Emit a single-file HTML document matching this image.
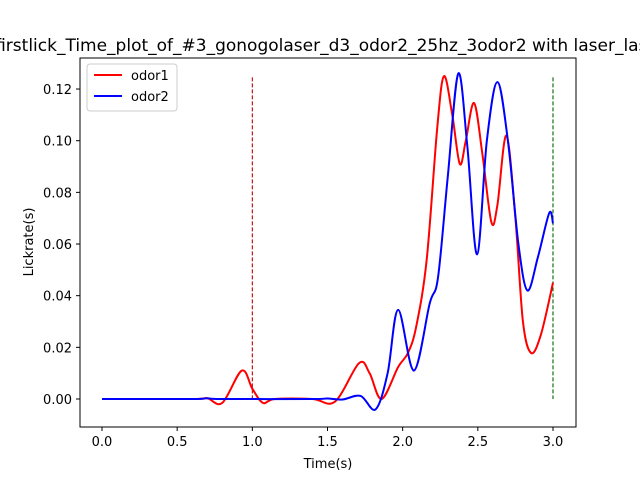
<!DOCTYPE html>
<html><head><meta charset="utf-8"><style>body{margin:0;background:#fff}svg{display:block;font-family:"DejaVu Sans","Liberation Sans",sans-serif}</style></head>
<body>
<svg id="c" width="640" height="480">
<text x="330" y="51" text-anchor="middle" font-size="17">firstlick_Time_plot_of_#3_gonogolaser_d3_odor2_25hz_3odor2 with laser_laser</text>
<g id="marks"></g>
<rect x="80" y="58" width="496" height="369" fill="none" stroke="#000" stroke-width="1"/>
<g id="axes" font-size="13"></g>
<text x="328" y="468" text-anchor="middle" font-size="13">Time(s)</text>
<text transform="translate(33,242) rotate(-90)" text-anchor="middle" font-size="13">Lickrate(s)</text>
<g>
<rect x="87" y="64" width="90" height="47" rx="3" fill="#fff" stroke="#ccc"/>
<line x1="94" y1="75" x2="122" y2="75" stroke="red" stroke-width="2"/>
<text x="131" y="80" font-size="13">odor1</text>
<line x1="94" y1="96" x2="122" y2="96" stroke="blue" stroke-width="2"/>
<text x="131" y="101" font-size="13">odor2</text>
</g>
</svg>
<script>
const xTicks=[0,0.5,1.0,1.5,2.0,2.5,3.0];
const yTicks=[0,0.02,0.04,0.06,0.08,0.10,0.12];
const odor1T=[0,0.6,0.7,0.8,0.93,1.0,1.07,1.15,1.4,1.55,1.71,1.78,1.86,1.97,2.035,2.09,2.16,2.23,2.275,2.33,2.38,2.42,2.475,2.53,2.59,2.63,2.69,2.75,2.8,2.855,2.92,3.0];
const odor1V=[0,0,0.0003,-0.0015,0.011,0.004,-0.0015,0,0,-0.001,0.0139,0.01,0,0.0124,0.0178,0.028,0.054,0.105,0.125,0.11,0.091,0.1,0.1146,0.095,0.0685,0.075,0.102,0.07,0.03,0.0178,0.025,0.045];
const odor2T=[0,0.6,0.7,0.8,1.4,1.5,1.6,1.72,1.82,1.9,1.97,2.075,2.18,2.235,2.3,2.37,2.43,2.495,2.56,2.63,2.7,2.77,2.83,2.9,2.975,3.0];
const odor2V=[0,0,0.0003,0,0,0.0002,-0.0002,0.0012,-0.004,0.01,0.0345,0.011,0.037,0.047,0.086,0.126,0.098,0.056,0.1,0.1227,0.1,0.06,0.042,0.055,0.072,0.068];
const markers=[{t:1.0,c:"#c00000"},{t:3.0,c:"#006400"}];
const X=t=>102+t*150.33, Y=v=>399-v*2583;
const NS="http://www.w3.org/2000/svg";
const marks=document.getElementById('marks'), axes=document.getElementById('axes');
function path(T,V){
  const p=T.map((t,i)=>[X(t),Y(V[i])]);
  let d="M"+p[0][0]+","+p[0][1];
  for(let i=0;i<p.length-1;i++){
    const p0=p[i-1]||p[i],p1=p[i],p2=p[i+1],p3=p[i+2]||p2;
    const c1=[p1[0]+(p2[0]-p0[0])/6,p1[1]+(p2[1]-p0[1])/6];
    const c2=[p2[0]-(p3[0]-p1[0])/6,p2[1]-(p3[1]-p1[1])/6];
    d+=`C${c1[0]},${c1[1]} ${c2[0]},${c2[1]} ${p2[0]},${p2[1]}`;
  }
  return d;
}
markers.forEach((m,i)=>{
  const l=document.createElementNS(NS,'line');
  l.setAttribute('x1',X(m.t));l.setAttribute('x2',X(m.t));
  l.setAttribute('y1',Y(0.1245));l.setAttribute('y2',Y(0));
  l.setAttribute('stroke',m.c);l.setAttribute('stroke-dasharray','4,2');l.setAttribute('stroke-width','1.1');
  
  
  marks.appendChild(l);
});
[[odor1T,odor1V,'red','odor1-line'],[odor2T,odor2V,'blue','odor2-line']].forEach(s=>{
  const p=document.createElementNS(NS,'path');
  p.setAttribute('d',path(s[0],s[1]));p.setAttribute('fill','none');
  p.setAttribute('stroke',s[2]);p.setAttribute('stroke-width','2');
  
  
  marks.appendChild(p);
});
xTicks.forEach(t=>{
  const l=document.createElementNS(NS,'line');
  l.setAttribute('x1',X(t));l.setAttribute('x2',X(t));l.setAttribute('y1',427);l.setAttribute('y2',431);l.setAttribute('stroke','#000');
  axes.appendChild(l);
  const tx=document.createElementNS(NS,'text');
  tx.setAttribute('x',X(t));tx.setAttribute('y',446);tx.setAttribute('text-anchor','middle');
  tx.textContent=t.toFixed(1);
  
  
  axes.appendChild(tx);
});
yTicks.forEach(v=>{
  const l=document.createElementNS(NS,'line');
  l.setAttribute('x1',76);l.setAttribute('x2',80);l.setAttribute('y1',Y(v));l.setAttribute('y2',Y(v));l.setAttribute('stroke','#000');
  axes.appendChild(l);
  const tx=document.createElementNS(NS,'text');
  tx.setAttribute('x',72);tx.setAttribute('y',Y(v)+5);tx.setAttribute('text-anchor','end');
  tx.textContent=v.toFixed(2);
  
  
  axes.appendChild(tx);
});
</script>
</body></html>
